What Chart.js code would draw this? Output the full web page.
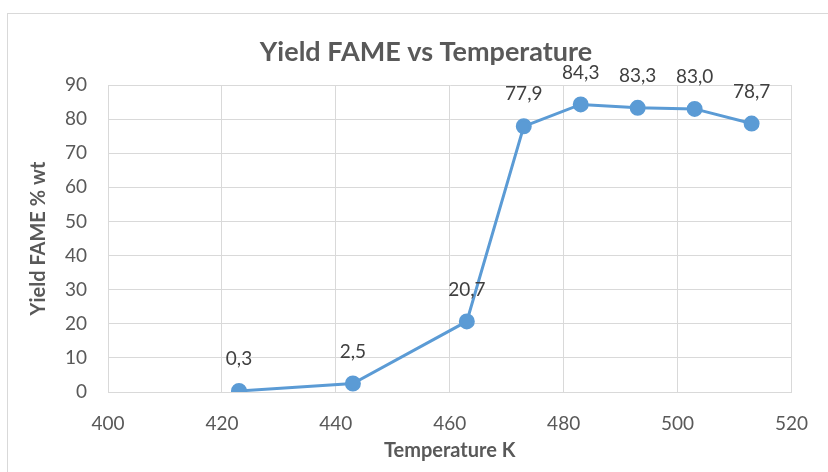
<!DOCTYPE html>
<html><head><meta charset="utf-8">
<script src="https://cdn.jsdelivr.net/npm/chart.js@4/dist/chart.umd.min.js"></script>
<style>html,body{margin:0;padding:0;background:#fff}#wrap{width:828px;height:472px}</style>
</head><body><div id="wrap"><canvas id="c" width="828" height="472"></canvas></div>
<script>
const temperatures = [423, 443, 463, 473, 483, 493, 503, 513];
const yieldFame = [0.3, 2.5, 20.7, 77.9, 84.3, 83.3, 83.0, 78.7];
const chartTitle = 'Yield FAME vs Temperature';
const xTitle = 'Temperature K';
const yTitle = 'Yield FAME % wt';

const FONT = 'Lato';
const points = temperatures.map((t, i) => ({x: t, y: yieldFame[i]}));

const framePlugin = {
  id: 'frame',
  beforeDraw(chart) {
    const ctx = chart.ctx;
    ctx.save();
    ctx.fillStyle = '#fff';
    ctx.fillRect(0, 0, chart.width, chart.height);
    ctx.strokeStyle = '#d9d9d9';
    ctx.lineWidth = 1;
    ctx.strokeRect(7.5, 13.5, 840, 480);
    ctx.fillStyle = '#595959';
    ctx.font = 'bold 27px ' + FONT;
    ctx.textAlign = 'center';
    ctx.textBaseline = 'middle';
    ctx.fillText(chartTitle, 426, 52);
    ctx.restore();
  }
};
const labelPlugin = {
  id: 'vlabels',
  afterDatasetsDraw(chart) {
    const ctx = chart.ctx;
    const meta = chart.getDatasetMeta(0);
    ctx.save();
    ctx.fillStyle = '#404040';
    ctx.font = '19px ' + FONT;
    ctx.textAlign = 'center';
    ctx.textBaseline = 'middle';
    meta.data.forEach((el, i) => {
      ctx.fillText(yieldFame[i].toFixed(1).replace('.', ','), el.x, el.y - 32);
    });
    ctx.restore();
  }
};

new Chart(document.getElementById('c'), {
  type: 'scatter',
  data: {datasets: [{
    data: points, showLine: true,
    borderColor: '#5b9bd5', backgroundColor: '#5b9bd5',
    borderWidth: 3, pointRadius: 6.5, pointHoverRadius: 6.5
  }]},
  options: {
    responsive: false, animation: false,
    layout: {padding: {left: 0, right: 36, top: 85, bottom: 0}},
    plugins: {legend: {display: false}, title: {display: false}, tooltip: {enabled: false}},
    scales: {
      x: {
        type: 'linear', min: 400, max: 520,
        ticks: {stepSize: 20, color: '#595959', font: {family: FONT, size: 19}, padding: 20},
        grid: {color: '#d9d9d9', drawTicks: false},
        border: {color: '#d9d9d9'},
        title: {display: true, text: xTitle, color: '#595959', font: {family: FONT, size: 20, weight: 'bold'}, padding: {top: 0, bottom: 9}},
        afterFit(s) { s.height = 80; }
      },
      y: {
        min: 0, max: 90,
        ticks: {stepSize: 10, color: '#595959', font: {family: FONT, size: 19}, padding: 21},
        grid: {color: '#d9d9d9', drawTicks: false},
        border: {color: '#d9d9d9'},
        title: {display: true, text: yTitle, color: '#595959', font: {family: FONT, size: 20, weight: 'bold'}, padding: {top: 27, bottom: 0}},
        afterFit(s) { s.width = 108; }
      }
    }
  },
  plugins: [framePlugin, labelPlugin]
});
</script></body></html>
